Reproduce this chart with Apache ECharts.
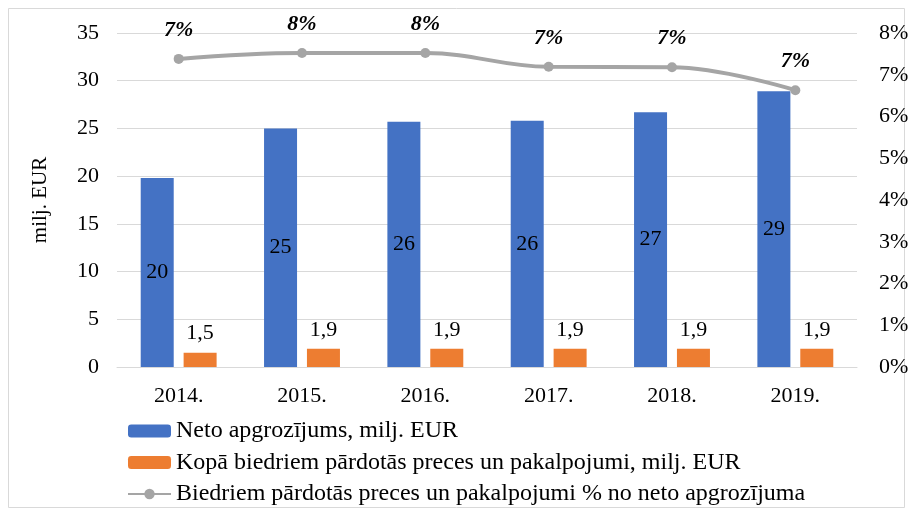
<!DOCTYPE html>
<html>
<head>
<meta charset="utf-8">
<script src="https://cdn.jsdelivr.net/npm/echarts@6/dist/echarts.min.js"></script>
<style>
  html, body { margin: 0; padding: 0; background: #fff; }
  #main { width: 913px; height: 515px; }
</style>
</head>
<body>
<div id="main"></div>
<script>
var years = ['2014.', '2015.', '2016.', '2017.', '2018.', '2019.'];
var netoValues = [19.8, 25.0, 25.7, 25.8, 26.7, 28.9];
var netoLabels = ['20', '25', '26', '26', '27', '29'];
var kopaValues = [1.5, 1.9, 1.9, 1.9, 1.9, 1.9];
var kopaLabels = ['1,5', '1,9', '1,9', '1,9', '1,9', '1,9'];
var pctValues = [7.38, 7.52, 7.52, 7.19, 7.18, 6.63];
var pctLabels = ['7%', '8%', '8%', '7%', '7%', '7%'];

var names = [
    'Neto apgrozījums, milj. EUR',
    'Kopā biedriem pārdotās preces un pakalpojumi, milj. EUR',
    'Biedriem pārdotās preces un pakalpojumi % no neto apgrozījuma'
];

var font = '"Liberation Serif", "Times New Roman", serif';

function render() {
    var myChart = echarts.init(document.getElementById('main'));

    var option = {
        backgroundColor: '#fff',
        textStyle: { fontFamily: font, color: '#000' },
        graphic: [{
            type: 'rect',
            shape: { x: 8.5, y: 8.5, width: 896, height: 499 },
            style: { fill: 'none', stroke: '#d9d9d9', lineWidth: 1 },
            silent: true
        }],
        grid: { left: 117, right: 56, top: 33, bottom: 148 },
        legend: {
            orient: 'vertical',
            left: 122,
            top: 414,
            itemWidth: 43,
            itemHeight: 13,
            itemGap: 7.5,
            textStyle: { fontFamily: font, fontSize: 24, color: '#000', lineHeight: 24 },
            data: names
        },
        xAxis: [{
            type: 'category',
            data: years,
            axisLine: { lineStyle: { color: '#d9d9d9', width: 1 } },
            axisTick: { show: false },
            axisLabel: { fontFamily: font, fontSize: 22, color: '#000', margin: 18 }
        }],
        yAxis: [{
            type: 'value',
            min: 0,
            max: 35,
            interval: 5,
            name: 'milj. EUR',
            nameLocation: 'middle',
            nameRotate: 90,
            nameGap: 66,
            nameTextStyle: { fontFamily: font, fontSize: 21, color: '#000' },
            axisLine: { show: false },
            axisTick: { show: false },
            splitLine: { lineStyle: { color: '#d9d9d9', width: 1 } },
            axisLabel: { fontFamily: font, fontSize: 22, color: '#000', margin: 18 }
        }, {
            type: 'value',
            min: 0,
            max: 8,
            interval: 1,
            position: 'right',
            axisLine: { show: false },
            axisTick: { show: false },
            splitLine: { show: false },
            axisLabel: {
                fontFamily: font, fontSize: 22, color: '#000', margin: 22,
                formatter: '{value}%'
            }
        }],
        series: [{
            name: names[0],
            type: 'bar',
            data: netoValues,
            barWidth: 33,
            barGap: '30%',
            itemStyle: { color: '#4472C4' },
            label: {
                show: true,
                position: 'inside',
                fontFamily: font,
                fontSize: 22,
                color: '#000',
                formatter: function (p) { return netoLabels[p.dataIndex]; }
            }
        }, {
            name: names[1],
            type: 'bar',
            data: kopaValues,
            barWidth: 33,
            itemStyle: { color: '#ED7D31' },
            label: {
                show: true,
                position: 'top',
                distance: 8,
                fontFamily: font,
                fontSize: 22,
                color: '#000',
                formatter: function (p) { return kopaLabels[p.dataIndex]; }
            }
        }, {
            name: names[2],
            type: 'line',
            yAxisIndex: 1,
            data: pctValues,
            smooth: 0.4,
            symbol: 'circle',
            symbolSize: 10,
            lineStyle: { color: '#A5A5A5', width: 4 },
            itemStyle: { color: '#A5A5A5' },
            label: {
                show: true,
                position: 'top',
                distance: 13,
                fontFamily: font,
                fontSize: 22,
                fontWeight: 'bold',
                fontStyle: 'italic',
                color: '#000',
                formatter: function (p) { return pctLabels[p.dataIndex]; }
            }
        }]
    };

    myChart.setOption(option);
}

render();
</script>
</body>
</html>
